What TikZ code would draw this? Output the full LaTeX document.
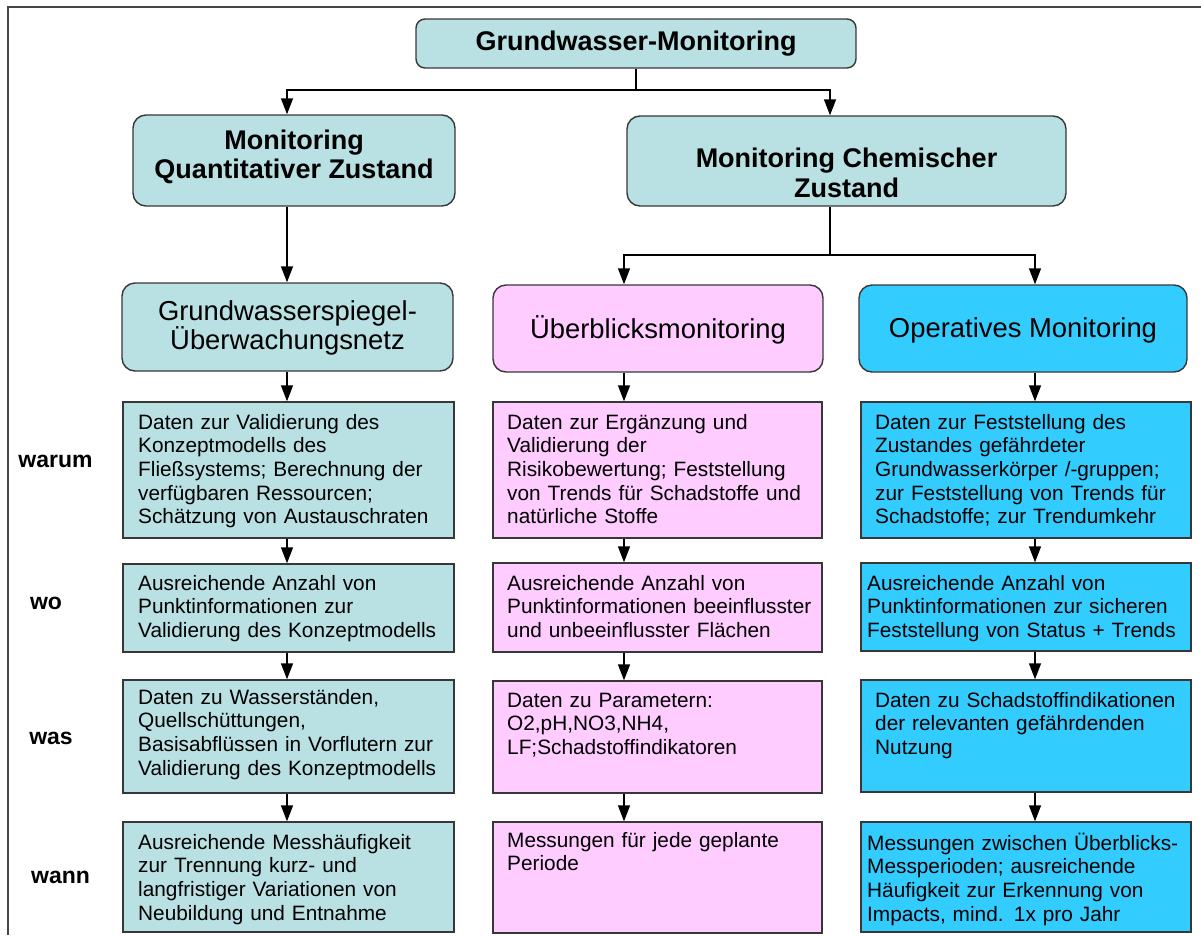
\documentclass[tikz,border=0pt]{standalone}
\usepackage{fontspec}
\setmainfont{Liberation Sans}
\usetikzlibrary{arrows.meta,calc}

\definecolor{gwTeal}{RGB}{185,224,227}
\definecolor{gwPink}{RGB}{255,204,255}
\definecolor{gwBlue}{RGB}{51,204,255}
\definecolor{gwEdge}{RGB}{55,55,55}
\definecolor{gwFrame}{RGB}{70,70,70}

\tikzset{
  frameline/.style={draw=gwFrame, line width=2pt},
  cell/.style={draw=gwEdge, line width=1.4pt, inner sep=0pt},
  rcell/.style={cell, rounded corners=13pt},
  conn/.style={draw=black, line width=1.4pt},
  arr/.style={conn, -{Triangle[length=16pt,width=12pt]}},
  body/.style={anchor=north west, inner sep=0pt, align=left, text width=330pt,
    font=\fontsize{20.8}{23.6}\selectfont,
    execute at begin node={\rule{0pt}{20pt}}},
  head/.style={inner sep=0pt, align=center, font=\bfseries\fontsize{27}{29.5}\selectfont},
  sub/.style={inner sep=0pt, align=center, font=\fontsize{27.4}{29}\selectfont},
  rowlab/.style={inner sep=0pt, font=\bfseries\fontsize{23}{26}\selectfont},
}

\begin{document}
\begin{tikzpicture}[x=1pt, y=-1pt]
\useasboundingbox (0,0) rectangle (1201,935);

% outer frame (top and left edges)
\draw[frameline] (8,935) -- (8,7) -- (1201,7);

% column axes for the connectors
\coordinate (cL) at (287,0);
\coordinate (cM) at (624,0);
\coordinate (cR) at (1035,0);
\coordinate (cC) at (830,0);
\coordinate (j1) at (636,90);
\coordinate (j2) at (830,255);

% ---- top level ----
\node[rcell, rounded corners=9pt, fill=gwTeal, minimum width=440pt, minimum height=49pt] (top) at (636,43.5) {};
\node[head] (top-t) at (636,44) {Grundwasser-Monitoring};

\node[rcell, fill=gwTeal, minimum width=322pt, minimum height=91pt] (qu) at (294,160.5) {};
\node[head] (qu-t) at (294,157) {Monitoring\\Quantitativer Zustand};

\node[rcell, fill=gwTeal, minimum width=439pt, minimum height=90pt] (ch) at (846.5,161) {};
\node[head] (ch-t) at (846.5,173) {Monitoring Chemischer\\Zustand};

% ---- networks ----
\node[rcell, fill=gwTeal, minimum width=331pt, minimum height=88pt] (gw) at (287.5,327) {};
\node[sub] (gw-t) at (287.5,327.5) {Grundwasserspiegel-\\Überwachungsnetz};

\node[rcell, fill=gwPink, minimum width=330pt, minimum height=87pt] (ueb) at (658,328.5) {};
\node[sub] (ueb-t) at (658,330) {Überblicksmonitoring};

\node[rcell, fill=gwBlue, minimum width=328pt, minimum height=87pt] (op) at (1023,328.5) {};
\node[sub] (op-t) at (1023,330) {Operatives Monitoring};

% ---- row labels ----
\node[rowlab] (l-warum) at (55.5,461) {warum};
\node[rowlab] (l-wo) at (46,603) {wo};
\node[rowlab] (l-was) at (51,738) {was};
\node[rowlab] (l-wann) at (60.5,877) {wann};

% ---- left column ----
\node[cell, fill=gwTeal, minimum width=331pt, minimum height=136pt] (a1) at (288.5,470) {};
\node[cell, fill=gwTeal, minimum width=331pt, minimum height=88pt]  (a2) at (288.5,608) {};
\node[cell, fill=gwTeal, minimum width=331pt, minimum height=113pt] (a3) at (288.5,736.5) {};
\node[cell, fill=gwTeal, minimum width=331pt, minimum height=110pt] (a4) at (288.5,877) {};

\node[body] (a1-t) at (138,409) {Daten zur Validierung des\\Konzeptmodells des\\Fließsystems; Berechnung der\\verfügbaren Ressourcen;\\Schätzung von Austauschraten};
\node[body] (a2-t) at (138,570) {Ausreichende Anzahl von\\Punktinformationen zur\\Validierung des Konzeptmodells};
\node[body] (a3-t) at (138,684) {Daten zu Wasserständen,\\Quellschüttungen,\\Basisabflüssen in Vorflutern zur\\Validierung des Konzeptmodells};
\node[body] (a4-t) at (138,829) {Ausreichende Messhäufigkeit\\zur Trennung kurz- und\\langfristiger Variationen von\\Neubildung und Entnahme};

% ---- middle column ----
\node[cell, fill=gwPink, minimum width=329pt, minimum height=136pt] (b1) at (657.5,470) {};
\node[cell, fill=gwPink, minimum width=329pt, minimum height=89pt]  (b2) at (657.5,607.5) {};
\node[cell, fill=gwPink, minimum width=329pt, minimum height=112pt] (b3) at (657.5,737) {};
\node[cell, fill=gwPink, minimum width=329pt, minimum height=111pt] (b4) at (657.5,877.5) {};

\node[body] (b1-t) at (507,409) {Daten zur Ergänzung und\\Validierung der\\Risikobewertung; Feststellung\\von Trends für Schadstoffe und\\natürliche Stoffe};
\node[body] (b2-t) at (507,570) {Ausreichende Anzahl von\\Punktinformationen beeinflusster\\und unbeeinflusster Flächen};
\node[body] (b3-t) at (507,687) {Daten zu Parametern:\\O2,pH,NO3,NH4,\\LF;Schadstoffindikatoren};
\node[body] (b4-t) at (507,827) {Messungen für jede geplante\\Periode};

% ---- right column ----
\node[cell, fill=gwBlue, minimum width=330pt, minimum height=136pt] (c1) at (1026,470) {};
\node[cell, fill=gwBlue, minimum width=330pt, minimum height=88pt]  (c2) at (1026,607) {};
\node[cell, fill=gwBlue, minimum width=330pt, minimum height=112pt] (c3) at (1026,736) {};
\node[cell, fill=gwBlue, minimum width=330pt, minimum height=110pt] (c4) at (1026,877) {};

\node[body] (c1-t) at (875,409) {Daten zur Feststellung des\\Zustandes gefährdeter\\Grundwasserkörper /-gruppen;\\zur Feststellung von Trends für\\Schadstoffe; zur Trendumkehr};
\node[body] (c2-t) at (867,570) {Ausreichende Anzahl von\\Punktinformationen zur sicheren\\Feststellung von Status + Trends};
\node[body] (c3-t) at (875,687) {Daten zu Schadstoffindikationen\\der relevanten gefährdenden\\Nutzung};
\node[body] (c4-t) at (867,830) {Messungen zwischen Überblicks-\\Messperioden; ausreichende\\Häufigkeit zur Erkennung von\\Impacts, mind. 1x pro Jahr};

% ---- connectors ----
\draw[conn] (top.south) -- (j1);
\draw[arr] (j1) -| (cL |- qu.north);
\draw[arr] (j1) -| (cC |- ch.north);

\draw[arr] (cL |- qu.south) -- (cL |- gw.north);

\draw[conn] (cC |- ch.south) -- (j2);
\draw[arr] (j2) -| (cM |- ueb.north);
\draw[arr] (j2) -| (cR |- op.north);

\draw[arr] (cL |- gw.south) -- (cL |- a1.north);
\draw[arr] (cL |- a1.south) -- (cL |- a2.north);
\draw[arr] (cL |- a2.south) -- (cL |- a3.north);
\draw[arr] (cL |- a3.south) -- (cL |- a4.north);

\draw[arr] (cM |- ueb.south) -- (cM |- b1.north);
\draw[arr] (cM |- b1.south) -- (cM |- b2.north);
\draw[arr] (cM |- b2.south) -- (cM |- b3.north);
\draw[arr] (cM |- b3.south) -- (cM |- b4.north);

\draw[arr] (cR |- op.south) -- (cR |- c1.north);
\draw[arr] (cR |- c1.south) -- (cR |- c2.north);
\draw[arr] (cR |- c2.south) -- (cR |- c3.north);
\draw[arr] (cR |- c3.south) -- (cR |- c4.north);
\end{tikzpicture}
\end{document}
